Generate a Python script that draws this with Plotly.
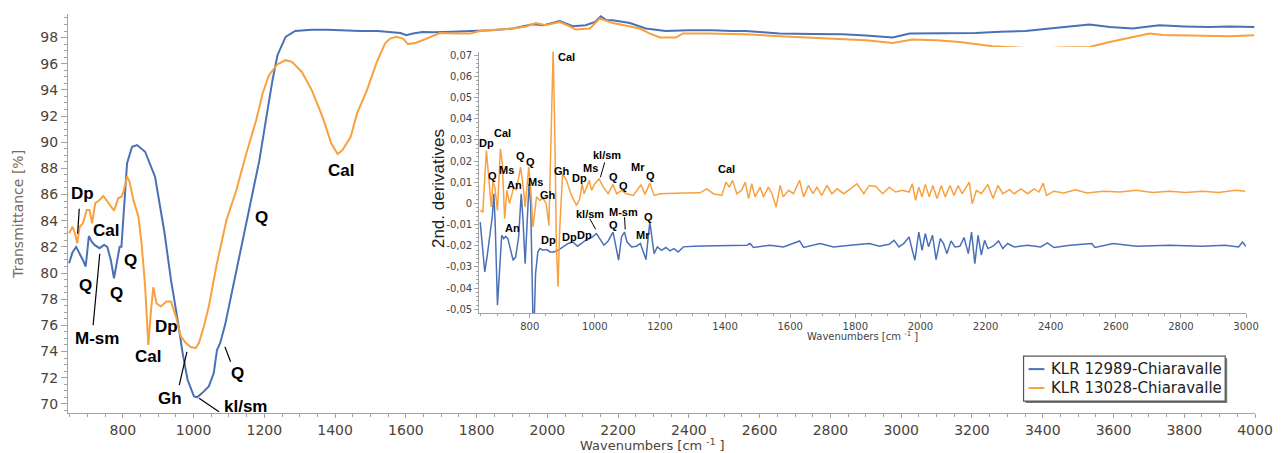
import plotly.graph_objects as go

# ---------------- data ----------------
series_names = ["KLR 12989-Chiaravalle", "KLR 13028-Chiaravalle"]

main_wn_blue = [648, 658, 668, 678, 687, 695, 704, 712, 720, 734, 747, 756, 766, 775, 784, 791, 796, 803, 812, 826,
                840, 863, 891, 918, 936, 955, 969, 983, 1001, 1010, 1024, 1043, 1057, 1066, 1075, 1089, 1112, 1140,
                1158, 1186, 1209, 1223, 1237, 1260, 1287, 1334, 1379, 1420, 1472, 1520, 1564, 1585, 1601, 1620, 1647,
                1676, 1730, 1781, 1840, 1902, 1930, 1959, 1990, 2035, 2050, 2072, 2108, 2135, 2151, 2165, 2185, 2210,
                2233, 2278, 2334, 2400, 2467, 2520, 2560, 2610, 2656, 2750, 2834, 2900, 2950, 2976, 3000, 3024, 3120,
                3210, 3280, 3351, 3420, 3476, 3532, 3590, 3654, 3700, 3730, 3800, 3871, 3930, 3998]
main_T_blue = [80.75, 81.6, 82.0, 81.5, 81.0, 80.5, 82.83, 82.4, 82.15, 81.9, 82.15, 82.0, 81.0, 79.6, 81.0, 82.0, 82.0,
               84.56, 88.4, 89.65, 89.78, 89.27, 87.36, 83.04, 79.47, 76.4, 73.88, 71.84, 70.57, 70.5, 70.82, 71.33,
               72.35, 74.1, 74.64, 76.04, 78.96, 82.53, 85.07, 88.63, 92.45, 94.74, 96.65, 98.05, 98.5, 98.6, 98.6,
               98.55, 98.5, 98.5, 98.43, 98.35, 98.18, 98.31, 98.43, 98.40, 98.45, 98.48, 98.55, 98.69, 98.85, 99.02,
               98.95, 99.27, 99.1, 98.86, 98.94, 99.2, 99.63, 99.35, 99.32, 99.2, 99.11, 98.69, 98.5, 98.55, 98.56,
               98.5, 98.5, 98.4, 98.31, 98.28, 98.25, 98.15, 98.05, 98.0, 98.15, 98.3, 98.32, 98.35, 98.45, 98.5,
               98.7, 98.86, 99.0, 98.8, 98.69, 98.85, 98.94, 98.85, 98.8, 98.85, 98.8]

main_wn_orange = [648, 658, 665, 671, 678, 687, 698, 706, 713, 722, 734, 745, 757, 766, 775, 787, 796, 803, 812, 819,
                  830, 844, 853, 863, 872, 879, 886, 895, 907, 923, 936, 950, 964, 978, 992, 1006, 1015, 1029, 1043,
                  1066, 1093, 1121, 1149, 1177, 1195, 1213, 1237, 1260, 1278, 1306, 1334, 1366, 1389, 1407, 1421,
                  1444, 1462, 1490, 1518, 1541, 1555, 1573, 1592, 1606, 1629, 1647, 1696, 1740, 1781, 1809, 1860,
                  1902, 1940, 1967, 1995, 2035, 2060, 2080, 2120, 2148, 2185, 2220, 2261, 2290, 2318, 2363, 2383,
                  2450, 2560, 2656, 2750, 2834, 2900, 2976, 3032, 3100, 3165, 3258, 3334, 3391, 3447, 3532, 3589,
                  3645, 3702, 3740, 3775, 3871, 3930, 3998]
main_T_orange = [83.04, 83.54, 83.0, 82.27, 83.54, 83.8, 84.82, 84.82, 83.8, 85.33, 85.58, 85.89, 85.45, 85.1, 84.76,
                 85.71, 85.83, 86.34, 87.36, 86.98, 85.58, 84.31, 82.27, 78.96, 74.51, 76.93, 78.91, 77.69, 77.44,
                 77.82, 77.82, 76.67, 75.15, 74.64, 74.34, 74.26, 74.64, 75.91, 77.44, 80.75, 84.05, 86.34, 89.14,
                 91.69, 93.73, 95.12, 95.96, 96.27, 96.14, 95.37, 93.98, 91.82, 89.91, 89.09, 89.4, 90.41, 92.2,
                 93.98, 96.14, 97.54, 97.92, 98.05, 97.92, 97.5, 97.6, 97.79, 98.35, 98.3, 98.3, 98.5, 98.6, 98.69,
                 98.85, 99.11, 98.94, 99.19, 98.9, 98.61, 98.69, 99.45, 99.11, 98.9, 98.69, 98.3, 98.0, 98.0, 98.31,
                 98.3, 98.25, 98.1, 98.0, 97.92, 97.8, 97.59, 97.85, 97.8, 97.66, 97.34, 97.24, 97.15, 97.24, 97.28,
                 97.66, 98.0, 98.31, 98.2, 98.18, 98.18, 98.1, 98.18]

ins_wn_orange = [648, 656, 667, 675, 682, 687, 693, 701, 710, 716, 723, 730, 738, 751, 759, 772, 779, 786, 797, 803,
                 810, 821, 831, 841, 851, 859, 867, 872, 877, 882, 887, 892, 901, 913, 928, 944, 954, 961, 967, 974,
                 983, 990, 1000, 1013, 1026, 1041, 1056, 1067, 1082, 1097, 1118, 1142, 1154, 1169, 1182, 1200, 1231,
                 1272, 1323, 1344, 1364, 1390, 1403, 1413, 1423, 1436, 1451, 1462, 1472, 1482, 1492, 1508, 1518,
                 1533, 1544, 1557, 1569, 1579, 1595, 1610, 1629, 1641, 1656, 1670, 1682, 1697, 1713, 1728, 1744,
                 1764, 1785, 1805, 1826, 1843, 1863, 1884, 1904, 1924, 1944, 1965, 1975, 1985, 1995, 2005, 2015,
                 2027, 2038, 2051, 2064, 2076, 2091, 2103, 2116, 2128, 2150, 2159, 2172, 2187, 2207, 2223, 2238,
                 2253, 2273, 2288, 2309, 2329, 2349, 2364, 2377, 2387, 2410, 2440, 2476, 2511, 2562, 2612, 2663,
                 2713, 2764, 2815, 2865, 2916, 2967, 2997]
ins_d2_orange = [-0.0033, -0.0040, 0.0250, 0.0124, -0.0017, 0.0101, 0.0077, -0.0033, 0.0258, 0.0187, -0.0072, 0.0062,
                 -0.0001, 0.0077, 0.0062, 0.0171, 0.0093, -0.0017, 0.0171, 0.0077, -0.0111, 0.0031, 0.0015, 0.0023,
                 -0.0001, -0.0105, 0.0344, 0.0725, 0.0344, -0.0205, -0.0393, -0.0126, 0.0140, 0.0109, 0.0038,
                 -0.0009, 0.0023, 0.0093, 0.0046, 0.0077, 0.0109, 0.0062, 0.0093, 0.0116, 0.0077, 0.0046, 0.0090,
                 0.0046, 0.0062, 0.0046, 0.0038, 0.0088, 0.0043, 0.0096, 0.0038, 0.0046, 0.0046, 0.0049, 0.0050,
                 0.0069, 0.0046, 0.0038, 0.0101, 0.0077, 0.0109, 0.0046, 0.0062, 0.0101, 0.0023, 0.0093, 0.0031,
                 0.0077, 0.0031, 0.0077, 0.0046, -0.0017, 0.0085, 0.0031, 0.0062, 0.0046, 0.0109, 0.0031, 0.0085,
                 0.0046, 0.0077, 0.0038, 0.0085, 0.0046, 0.0069, 0.0046, 0.0069, 0.0093, 0.0046, 0.0085, 0.0080,
                 0.0046, 0.0077, 0.0054, 0.0062, 0.0054, 0.0093, 0.0015, 0.0077, 0.0031, 0.0090, 0.0031, 0.0085,
                 0.0023, 0.0085, 0.0031, 0.0085, 0.0038, 0.0085, 0.0046, 0.0101, -0.0001, 0.0062, 0.0046, 0.0090,
                 0.0023, 0.0085, 0.0046, 0.0065, 0.0046, 0.0069, 0.0046, 0.0069, 0.0054, 0.0096, 0.0038, 0.0058,
                 0.0049, 0.0065, 0.0049, 0.0058, 0.0054, 0.0062, 0.0052, 0.0058, 0.0052, 0.0058, 0.0052, 0.0062,
                 0.0058]

ins_wn_blue = [648, 654, 662, 669, 677, 685, 690, 694, 701, 708, 714, 720, 726, 733, 741, 749, 757, 766, 774, 779,
               786, 792, 798, 803, 807, 810, 814, 818, 825, 831, 841, 853, 862, 874, 887, 903, 918, 933, 947, 959,
               969, 983, 993, 1005, 1015, 1028, 1041, 1056, 1065, 1073, 1082, 1091, 1099, 1113, 1128, 1140, 1149,
               1157, 1163, 1169, 1175, 1182, 1192, 1205, 1218, 1231, 1243, 1256, 1272, 1303, 1374, 1467, 1477, 1487,
               1538, 1579, 1629, 1641, 1692, 1733, 1785, 1843, 1874, 1904, 1919, 1934, 1949, 1965, 1975, 1983, 1990,
               1995, 2005, 2015, 2025, 2037, 2048, 2061, 2071, 2081, 2094, 2106, 2121, 2134, 2147, 2157, 2167, 2177,
               2187, 2197, 2207, 2223, 2240, 2253, 2268, 2288, 2329, 2369, 2390, 2410, 2460, 2526, 2536, 2592, 2663,
               2764, 2865, 2936, 2977, 2989, 2999]
ins_d2_blue = [-0.0088, -0.0189, -0.0323, -0.0252, -0.0158, -0.0064, 0.0046, -0.0095, -0.0480, -0.0284, -0.0150,
               -0.0166, -0.0155, -0.0166, -0.0221, -0.0268, -0.0252, -0.0158, 0.0046, -0.0064, -0.0284, -0.0095,
               0.0093, -0.0001, -0.0315, -0.0550, -0.0550, -0.0331, -0.0229, -0.0213, -0.0221, -0.0218, -0.0229,
               -0.0229, -0.0221, -0.0205, -0.0189, -0.0182, -0.0202, -0.0189, -0.0177, -0.0166, -0.0158, -0.0142,
               -0.0166, -0.0197, -0.0177, -0.0135, -0.0205, -0.0268, -0.0158, -0.0135, -0.0182, -0.0205, -0.0202,
               -0.0189, -0.0229, -0.0265, -0.0174, -0.0088, -0.0158, -0.0237, -0.0205, -0.0221, -0.0208, -0.0224,
               -0.0213, -0.0229, -0.0205, -0.0202, -0.0200, -0.0197, -0.0189, -0.0208, -0.0197, -0.0205, -0.0177,
               -0.0208, -0.0189, -0.0205, -0.0197, -0.0189, -0.0202, -0.0193, -0.0174, -0.0205, -0.0189, -0.0158,
               -0.0221, -0.0268, -0.0189, -0.0135, -0.0221, -0.0142, -0.0205, -0.0150, -0.0265, -0.0166, -0.0189,
               -0.0237, -0.0177, -0.0205, -0.0202, -0.0161, -0.0237, -0.0135, -0.0284, -0.0150, -0.0244, -0.0174,
               -0.0213, -0.0202, -0.0177, -0.0213, -0.0189, -0.0205, -0.0197, -0.0205, -0.0186, -0.0208, -0.0197,
               -0.0189, -0.0208, -0.0189, -0.0202, -0.0197, -0.0202, -0.0197, -0.0205, -0.0182, -0.0202]

ins_tickvals = [-0.05, -0.04, -0.03, -0.02, -0.01, 0, 0.01, 0.02, 0.03, 0.04, 0.05, 0.06, 0.07]
ins_ticktext = ["-0,05", "-0,04", "-0,03", "-0,02", "-0,01", "0", "0,01", "0,02", "0,03", "0,04", "0,05", "0,06", "0,07"]

main_labels = [("Dp", 82.7, 193.3), ("Cal", 106, 230), ("Q", 86, 285), ("M-sm", 96.7, 338.3), ("Q", 116.7, 293.3),
               ("Q", 130.7, 260), ("Cal", 149, 356.7), ("Dp", 167.3, 326.7), ("Gh", 170.7, 398.3),
               ("kl/sm", 247, 406.7), ("Q", 238.3, 373.3), ("Q", 263.3, 216.7), ("Cal", 342.7, 170)]
main_leaders = [(79.3, 208.3, 77.7, 233.3), (93.3, 325, 100, 253.3), (180, 385, 187.7, 351.7),
                (200, 398.3, 220, 411.7), (226, 346.7, 231.7, 361.7)]
ins_labels = [("Cal", 570, 56), ("Dp", 489, 142.7), ("Cal", 505, 132.7), ("Q", 495, 175.7), ("Ms", 509, 169.3),
              ("Q", 523.3, 155.7), ("Q", 533.3, 161), ("An", 517.7, 184.3), ("Ms", 539, 181.7), ("Gh", 551, 194),
              ("Gh", 565.7, 170), ("Dp", 583.3, 177.7), ("Ms", 594, 167.3), ("kl/sm", 610.7, 154.7),
              ("Q", 617.3, 176.7), ("Q", 627.3, 185), ("Mr", 642.3, 166.7), ("Q", 654.3, 175.7), ("Cal", 730.7, 168.3),
              ("An", 515, 227.3), ("Dp", 551.7, 240), ("Dp", 573.3, 236.7), ("Dp", 588.3, 234.3),
              ("kl/sm", 594, 214), ("Q", 617.3, 224.3), ("M-sm", 627.3, 211), ("Mr", 647.3, 234.3),
              ("Q", 652.7, 216.7)]
ins_leaders = [(608.3, 161.7, 604, 176.7), (593.3, 218.3, 599.3, 229), (628.3, 216.7, 629, 229)]

# ---------------- layout geometry ----------------
W, H = 1285, 453
ML, MR, MT, MB = 68, 22, 13, 40
PW, PH = W - ML - MR, H - MT - MB
IX0, IX1, IY0, IY1 = 482, 1254, 50.7, 312.7      # inset plot box (px)
BX0, BX1, BY0, BY1 = 430, 1262, 46, 345          # white backing box (px)

def px(x):
    return (x - ML) / PW

def py(y):
    return (H - MB - y) / PH

BLUE = "#4a70b8"
ORANGE = "#f9a03f"
AXC = "#a3a3a3"
TICKFONT = dict(family="DejaVu Sans, Verdana, sans-serif", size=14, color="#4d4238")

fig = go.Figure()
fig.add_trace(go.Scatter(x=main_wn_blue, y=main_T_blue, mode="lines", line=dict(color=BLUE, width=2),
                         name=series_names[0], showlegend=False))
fig.add_trace(go.Scatter(x=main_wn_orange, y=main_T_orange, mode="lines", line=dict(color=ORANGE, width=2),
                         name=series_names[1], showlegend=False))
# white backing panel for the inset
fig.add_trace(go.Scatter(x=[], y=[], xaxis="x2", yaxis="y2", showlegend=False, hoverinfo="skip"))
fig.add_trace(go.Scatter(x=ins_wn_blue, y=ins_d2_blue, mode="lines", line=dict(color=BLUE, width=1.5),
                         xaxis="x3", yaxis="y3", showlegend=False))
fig.add_trace(go.Scatter(x=ins_wn_orange, y=ins_d2_orange, mode="lines", line=dict(color=ORANGE, width=1.5),
                         xaxis="x3", yaxis="y3", showlegend=False))

common = dict(showgrid=False, zeroline=False, showline=True, linecolor=AXC, linewidth=1,
              ticks="outside", tickcolor=AXC)

fig.update_layout(
    width=W, height=H, margin=dict(l=ML, r=MR, t=MT, b=MB),
    paper_bgcolor="white", plot_bgcolor="white", showlegend=False,
    xaxis=dict(domain=[0, 1], range=[645, 4000], dtick=200, tick0=0, ticklen=4, tickfont=TICKFONT,
               minor=dict(dtick=50, tick0=0, ticklen=3, tickcolor=AXC, ticks="outside"), **common),
    yaxis=dict(domain=[0, 1], range=[69.3, 99.8], dtick=2, tick0=0, ticklen=6, tickfont=TICKFONT,
               minor=dict(dtick=0.5, tick0=0, ticklen=3, tickcolor=AXC, ticks="outside"), **common),
    xaxis2=dict(domain=[px(BX0), px(BX1)], range=[0, 1], visible=False, anchor="y2"),
    yaxis2=dict(domain=[py(BY1), py(BY0)], range=[0, 1], visible=False, anchor="x2"),
    xaxis3=dict(domain=[px(IX0), px(IX1)], range=[645, 3000], dtick=200, tick0=0, ticklen=4, anchor="y3",
                tickfont=dict(family="DejaVu Sans, Verdana, sans-serif", size=10, color="#444"),
                minor=dict(dtick=50, tick0=0, ticklen=2, tickcolor=AXC, ticks="outside"), **common),
    yaxis3=dict(domain=[py(IY1), py(IY0)], range=[-0.0517, 0.0717], tickmode="array", tickvals=ins_tickvals,
                ticktext=ins_ticktext, ticklen=4, anchor="x3",
                tickfont=dict(family="DejaVu Sans, Verdana, sans-serif", size=10, color="#444"),
                minor=dict(tickmode="linear", dtick=0.002, tick0=0, ticklen=2, tickcolor=AXC, ticks="outside"),
                **common),
)

ann = []
shapes = []
LBL = dict(family="Liberation Sans, Arial, sans-serif", color="black")

def label(text, x, y, **kw):
    d = dict(text=text, x=px(x), y=py(y), xref="paper", yref="paper", showarrow=False,
             xanchor="center", yanchor="middle")
    d.update(kw)
    ann.append(d)

for t, x, y in main_labels:
    label("<b>%s</b>" % t, x, y, font=dict(size=17, **LBL))
for t, x, y in ins_labels:
    label("<b>%s</b>" % t, x, y, font=dict(size=11, **LBL))
for x0, y0, x1, y1 in main_leaders:
    shapes.append(dict(type="line", xref="paper", yref="paper", x0=px(x0), y0=py(y0), x1=px(x1), y1=py(y1),
                       line=dict(color="black", width=1.2)))
for x0, y0, x1, y1 in ins_leaders:
    shapes.append(dict(type="line", xref="paper", yref="paper", x0=px(x0), y0=py(y0), x1=px(x1), y1=py(y1),
                       line=dict(color="black", width=1)))

# axis titles
label("Transmittance [%]", 18, 214, textangle=-90,
      font=dict(family="DejaVu Sans, Verdana, sans-serif", size=14, color="#7a6a5c"))
label("Wavenumbers [cm <sup>-1</sup> ]", 656, 445,
      font=dict(family="DejaVu Sans, Verdana, sans-serif", size=13, color="#4d4238"))
label("2nd. derivatives", 441, 188, textangle=-90,
      font=dict(family="Liberation Sans, Arial, sans-serif", size=17, color="#222"))
label("Wavenumbers [cm <sup>-1</sup> ]", 868, 336,
      font=dict(family="DejaVu Sans, Verdana, sans-serif", size=10, color="#444"))

# legend box (drawn)
LX0, LX1, LY0, LY1 = 1030, 1233, 356, 401
shapes.append(dict(type="rect", xref="paper", yref="paper", x0=px(LX0 + 2), x1=px(LX1 + 2), y0=py(LY1 + 2),
                   y1=py(LY0 + 2), fillcolor="#777", line=dict(width=0), layer="above"))
shapes.append(dict(type="rect", xref="paper", yref="paper", x0=px(LX0), x1=px(LX1), y0=py(LY1), y1=py(LY0),
                   fillcolor="white", line=dict(color="#555", width=1.2), layer="above"))
for i, (name, col) in enumerate(zip(series_names, [BLUE, ORANGE])):
    yy = 369 + 19 * i
    shapes.append(dict(type="line", xref="paper", yref="paper", x0=px(1035), x1=px(1051), y0=py(yy), y1=py(yy),
                       line=dict(color=col, width=2), layer="above"))
    label(name, 1056, yy, xanchor="left",
          font=dict(family="DejaVu Sans, Verdana, sans-serif", size=15, color="#222"))

fig.update_layout(annotations=ann, shapes=shapes)
fig.write_html("out.html")
